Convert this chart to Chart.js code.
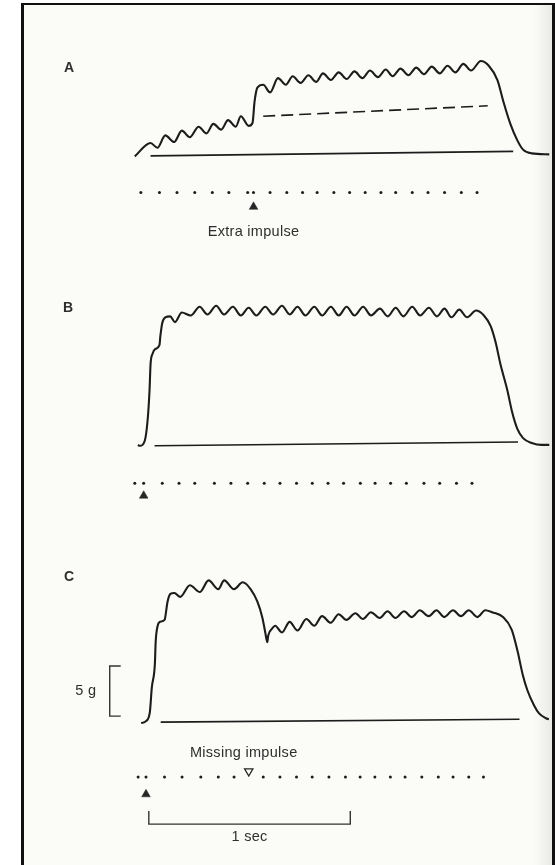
<!DOCTYPE html>
<html>
<head>
<meta charset="utf-8">
<script src="https://cdn.jsdelivr.net/npm/chart.js@4.4.1/dist/chart.umd.min.js"></script>
<style>
  html, body { margin: 0; padding: 0; background: #fff; }
  #page { position: relative; width: 555px; height: 865px; overflow: hidden; }
  #frame {
    position: absolute; left: 21px; top: 3px; width: 528px; height: 900px;
    border-left: 3px solid #111; border-top: 2px solid #111; border-right: 3px solid #111;
    background: linear-gradient(to right, #fbfbf8 0, #fbfbf8 510px, #e9e9e6 528px);
  }
  canvas { position: absolute; left: 0; }
</style>
</head>
<body>
<div id="page">
  <div id="frame"></div>
  <canvas id="panelA" width="555" height="236" style="top:24px"></canvas>
  <canvas id="panelB" width="555" height="270" style="top:260px"></canvas>
  <canvas id="panelC" width="555" height="335" style="top:530px"></canvas>
</div>
<script>
// Tension records: [time (ms), force (g)]
const traceA = [
  [-15, -0.2], [63, 1.15], [97, 0.67], [136, 1.92], [180, 1.25], [218, 2.4], [257, 1.73],
  [301, 2.79], [340, 2.12], [374, 3.08], [413, 2.5], [447, 3.46], [485, 2.79], [510, 3.85],
  [549, 2.88], [568, 3.17], [578, 5.29], [592, 6.73], [621, 7.02], [655, 6.25],
  [694, 7.69], [733, 7.02], [767, 7.88], [806, 7.21], [845, 7.98], [883, 7.31], [917, 8.17],
  [956, 7.5], [995, 8.27], [1034, 7.6], [1073, 8.37], [1112, 7.69], [1150, 8.46], [1189, 7.79],
  [1228, 8.56], [1262, 7.88], [1301, 8.65], [1340, 7.98], [1379, 8.75], [1417, 8.08],
  [1456, 8.85], [1495, 8.17], [1534, 8.94], [1573, 8.27], [1612, 9.13], [1650, 8.46],
  [1699, 9.42], [1738, 8.94], [1781, 7.5], [1811, 5.29], [1845, 3.08], [1879, 1.44],
  [1908, 0.48], [1951, 0.1], [2039, 0]
];
const baselineA = [[63, -0.15], [1859, 0.3]];
const plateauA = [[621, 3.85], [1733, 4.9]];   // dashed line
const stimA = [15, 107, 194, 282, 369, 451, 544, 573, 655, 738, 816, 888, 971, 1049,
  1126, 1204, 1277, 1359, 1437, 1519, 1602, 1680];
const extraA = [573];

const traceB = [
  [0, -0.1], [10, -0.19], [34, 0.29], [49, 2.5], [58, 5.38], [63, 7.98], [73, 9.04],
  [87, 9.52], [107, 9.9], [112, 10.87], [121, 12.12], [136, 12.69], [160, 12.79],
  [184, 12.21], [218, 13.17], [262, 12.88], [306, 13.75], [345, 12.98], [388, 13.85],
  [427, 12.98], [471, 13.75], [510, 12.88], [549, 13.65], [587, 12.88], [631, 13.75],
  [670, 12.98], [714, 13.85], [752, 12.98], [791, 13.75], [830, 12.88], [874, 13.75],
  [913, 12.88], [956, 13.75], [995, 12.88], [1034, 13.75], [1073, 12.88], [1116, 13.75],
  [1155, 12.88], [1199, 13.56], [1238, 12.79], [1277, 13.65], [1315, 12.79], [1359, 13.75],
  [1398, 12.88], [1442, 13.65], [1481, 12.79], [1519, 13.56], [1553, 12.69], [1592, 13.46],
  [1631, 12.69], [1675, 13.37], [1714, 12.88], [1747, 11.83], [1772, 10.19], [1796, 7.98],
  [1830, 5.38], [1854, 3.17], [1879, 1.54], [1908, 0.58], [1951, 0.1], [2000, -0.1],
  [2039, -0.1]
];
const baselineB = [[83, -0.19], [1883, 0.19]];
const stimB = [-15, 29, 121, 204, 282, 379, 461, 544, 626, 704, 786, 864, 942, 1019,
  1102, 1175, 1252, 1330, 1417, 1495, 1578, 1655];
const startB = [29];

const traceC = [
  [15, -0.19], [39, 0], [58, 0.87], [68, 3.37], [83, 5.67], [87, 7.88], [97, 9.52],
  [107, 9.9], [131, 10.1], [146, 11.92], [160, 12.69], [180, 12.79], [209, 12.4],
  [257, 13.56], [306, 12.88], [350, 14.04], [398, 13.17], [427, 14.04], [476, 13.17],
  [519, 13.85], [558, 13.17], [592, 11.92], [617, 10.29], [631, 8.85], [641, 7.88],
  [646, 8.56], [665, 9.23], [680, 9.52], [714, 8.85], [752, 9.9], [791, 9.04], [835, 10.19],
  [874, 9.52], [913, 10.48], [956, 9.81], [995, 10.67], [1034, 10.1], [1078, 10.77],
  [1116, 10.19], [1155, 10.87], [1199, 10.29], [1238, 10.96], [1277, 10.29], [1320, 10.96],
  [1359, 10.38], [1398, 11.06], [1442, 10.48], [1481, 11.06], [1519, 10.38], [1563, 11.06],
  [1602, 10.48], [1641, 11.06], [1684, 10.38], [1723, 11.06], [1757, 10.87], [1811, 10.38],
  [1854, 9.13], [1884, 6.92], [1908, 4.71], [1932, 3.08], [1966, 1.54], [1990, 0.77],
  [2024, 0.29], [2039, 0.19]
];
const baselineC = [[112, -0.1], [1893, 0.19]];
const stimC = [0, 39, 131, 218, 311, 398, 476, 621, 704, 786, 864, 947, 1029, 1102,
  1175, 1252, 1325, 1408, 1490, 1563, 1641, 1714];
const startC = [39];
const missingC = [549];

const forceBar = 5;      // g
const timeBar = 1000;    // ms

// layout (pixels)
const PX_PER_G = 10.4;
const PX_PER_MS = 0.206;
const T0_PX = 135;
const INK = '#1c1c1c';
const TEXT = '#2e2e2e';
const FONT = '"Liberation Sans", Arial, sans-serif';

const panels = [
  {
    id: 'panelA', top: 24, height: 236, basePx: 155, letter: 'A', letterAt: [69, 68],
    trace: traceA, baseline: baselineA, dashed: plateauA, stim: stimA, stimRow: 40,
    marks: [{ times: extraA, row: 55, open: false }],
    notes: [{ text: 'Extra impulse', t: extraA[0], row: 78 }]
  },
  {
    id: 'panelB', top: 260, height: 270, basePx: 446, letter: 'B', letterAt: [68, 308],
    trace: traceB, baseline: baselineB, stim: stimB, stimRow: 41,
    marks: [{ times: startB, row: 54, open: false }],
    notes: []
  },
  {
    id: 'panelC', top: 530, height: 335, basePx: 722, letter: 'C', letterAt: [69, 577],
    trace: traceC, baseline: baselineC, stim: stimC, stimRow: 58,
    marks: [{ times: startC, row: 76, open: false }, { times: missingC, row: 52, open: true }],
    notes: [{ text: 'Missing impulse', t: missingC[0] - 25, row: 32 }],
    bars: true
  }
];

const pxToG = px => -px / PX_PER_G;

function buildPanel(p) {
  const base = p.basePx - p.top;
  const datasets = [
    {
      data: p.trace.map(([x, y]) => ({ x, y })),
      borderColor: INK, borderWidth: 2.1, pointRadius: 0,
      cubicInterpolationMode: 'monotone', fill: false
    },
    {
      data: p.baseline.map(([x, y]) => ({ x, y })),
      borderColor: INK, borderWidth: 1.6, pointRadius: 0, fill: false
    },
    {
      data: p.stim.map(t => ({ x: t, y: pxToG(p.stimRow) })),
      showLine: false, pointRadius: 1.5, pointStyle: 'circle',
      backgroundColor: INK, borderWidth: 0
    }
  ];
  if (p.dashed) {
    datasets.push({
      data: p.dashed.map(([x, y]) => ({ x, y })),
      borderColor: INK, borderWidth: 1.6, borderDash: [12, 6], pointRadius: 0, fill: false
    });
  }
  p.marks.forEach(m => {
    datasets.push({
      data: m.times.map(t => ({ x: t, y: pxToG(m.row) })),
      showLine: false, pointStyle: 'triangle', pointRadius: m.open ? 4.8 : 5,
      rotation: m.open ? 180 : 0,
      backgroundColor: m.open ? '#fbfbf8' : '#262626',
      borderColor: '#262626', borderWidth: m.open ? 1.3 : 0.5
    });
  });

  const annotate = {
    id: 'annotate',
    afterDatasetsDraw(chart) {
      const { ctx, scales: { x, y } } = chart;
      ctx.save();
      ctx.fillStyle = TEXT;
      ctx.textAlign = 'center';
      ctx.textBaseline = 'middle';
      ctx.font = 'bold 14px ' + FONT;
      ctx.fillText(p.letter, p.letterAt[0], p.letterAt[1] - p.top);
      ctx.font = '14.5px ' + FONT;
      ctx.letterSpacing = '0.3px';
      p.notes.forEach(n => {
        ctx.fillText(n.text, x.getPixelForValue(n.t), y.getPixelForValue(0) + n.row);
      });
      if (p.bars) {
        ctx.strokeStyle = '#333';
        ctx.lineWidth = 1.4;
        // force calibration bracket
        const bx = x.getPixelForValue(-141);
        const b0 = y.getPixelForValue(0.5);
        const b1 = y.getPixelForValue(0.5 + forceBar);
        ctx.beginPath();
        ctx.moveTo(bx + 11, b1); ctx.lineTo(bx, b1); ctx.lineTo(bx, b0); ctx.lineTo(bx + 11, b0);
        ctx.stroke();
        ctx.fillText(forceBar + ' g', bx - 24, (b0 + b1) / 2);
        // time calibration bracket
        const t0 = x.getPixelForValue(53);
        const t1 = x.getPixelForValue(53 + timeBar);
        const yb = y.getPixelForValue(0) + 103;
        ctx.beginPath();
        ctx.moveTo(t0, yb - 13); ctx.lineTo(t0, yb); ctx.lineTo(t1, yb); ctx.lineTo(t1, yb - 13);
        ctx.stroke();
        ctx.fillText(timeBar / 1000 + ' sec', (t0 + t1) / 2, yb + 13);
      }
      ctx.restore();
    }
  };

  new Chart(document.getElementById(p.id), {
    type: 'line',
    data: { datasets },
    options: {
      responsive: false,
      animation: false,
      events: [],
      layout: { padding: 0 },
      plugins: { legend: { display: false }, tooltip: { enabled: false } },
      scales: {
        x: { type: 'linear', display: false, min: -T0_PX / PX_PER_MS, max: (555 - T0_PX) / PX_PER_MS },
        y: { type: 'linear', display: false, min: -(p.height - base) / PX_PER_G, max: base / PX_PER_G }
      }
    },
    plugins: [annotate]
  });
}

panels.forEach(buildPanel);
</script>
</body>
</html>
